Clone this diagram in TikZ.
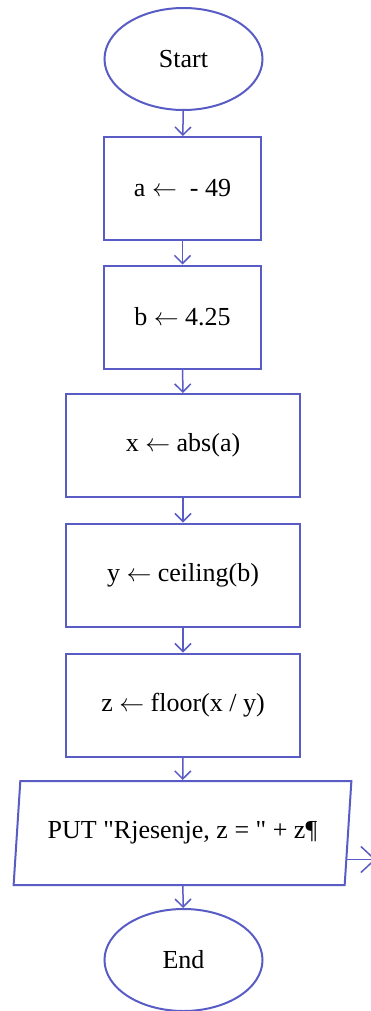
\documentclass[tikz,border=0pt]{standalone}
\usepackage{fontspec}
\newfontfamily\chartfont{Liberation Serif}
\usetikzlibrary{shapes.geometric, arrows.meta, calc}

\definecolor{chart blue}{RGB}{88,92,196}
\tikzstyle{terminal}=[ellipse, draw=chart blue, line width=2pt, minimum width=158pt, minimum height=102pt]
\tikzstyle{process}=[rectangle, draw=chart blue, line width=2pt, minimum height=103pt]
\tikzstyle{io}=[trapezium, trapezium left angle=79, trapezium right angle=101, trapezium stretches=true, draw=chart blue, line width=2pt, minimum width=339pt, minimum height=104pt]
\tikzstyle{flow}=[draw=chart blue, line width=1.5pt, -{Straight Barb[length=8pt, width=16pt, line width=1.5pt]}]

\begin{document}
\begin{tikzpicture}[x=1pt, y=-1pt, every node/.style={font=\chartfont\fontsize{26}{30}\selectfont}]
				\useasboundingbox (0,0) rectangle (370,1011);

				% Terminals
				\node[terminal] (start) at (183.5, 59) {Start};
				\node[terminal] (end)   at (183.5, 960) {End};

				% Assignments
				\node[process, minimum width=157pt] (seta) at (182.5, 188.5) {a $\leftarrow$ \ - 49};
				\node[process, minimum width=157pt] (setb) at (182.5, 317) {b $\leftarrow$ 4.25};
				\node[process, minimum width=234pt] (setx) at (183, 445.5) {x $\leftarrow$ abs(a)};
				\node[process, minimum width=234pt] (sety) at (183, 575) {y $\leftarrow$ ceiling(b)};
				\node[process, minimum width=234pt] (setz) at (183, 705) {z $\leftarrow$ floor(x / y)};

				% Output
				\node[io] (put) at (182.5, 833) {PUT "Rjesenje, z = " + z¶};
				\coordinate (outend) at (376, 0);

				% Flow lines
				\draw[flow] (start) -- (seta);
				\draw[flow] (seta) -- (setb);
				\draw[flow] (setb) -- (setx);
				\draw[flow] (setx) -- (sety);
				\draw[flow] (sety) -- (setz);
				\draw[flow] (setz) -- (put);
				\draw[flow] (put) -- (end);
				\draw[flow, -{Straight Barb[length=14pt, width=26pt, line width=1.5pt]}] ($(put.bottom right corner)!0.25!(put.top right corner)$) coordinate (side) -- (side -| outend);
			\end{tikzpicture}
\end{document}
